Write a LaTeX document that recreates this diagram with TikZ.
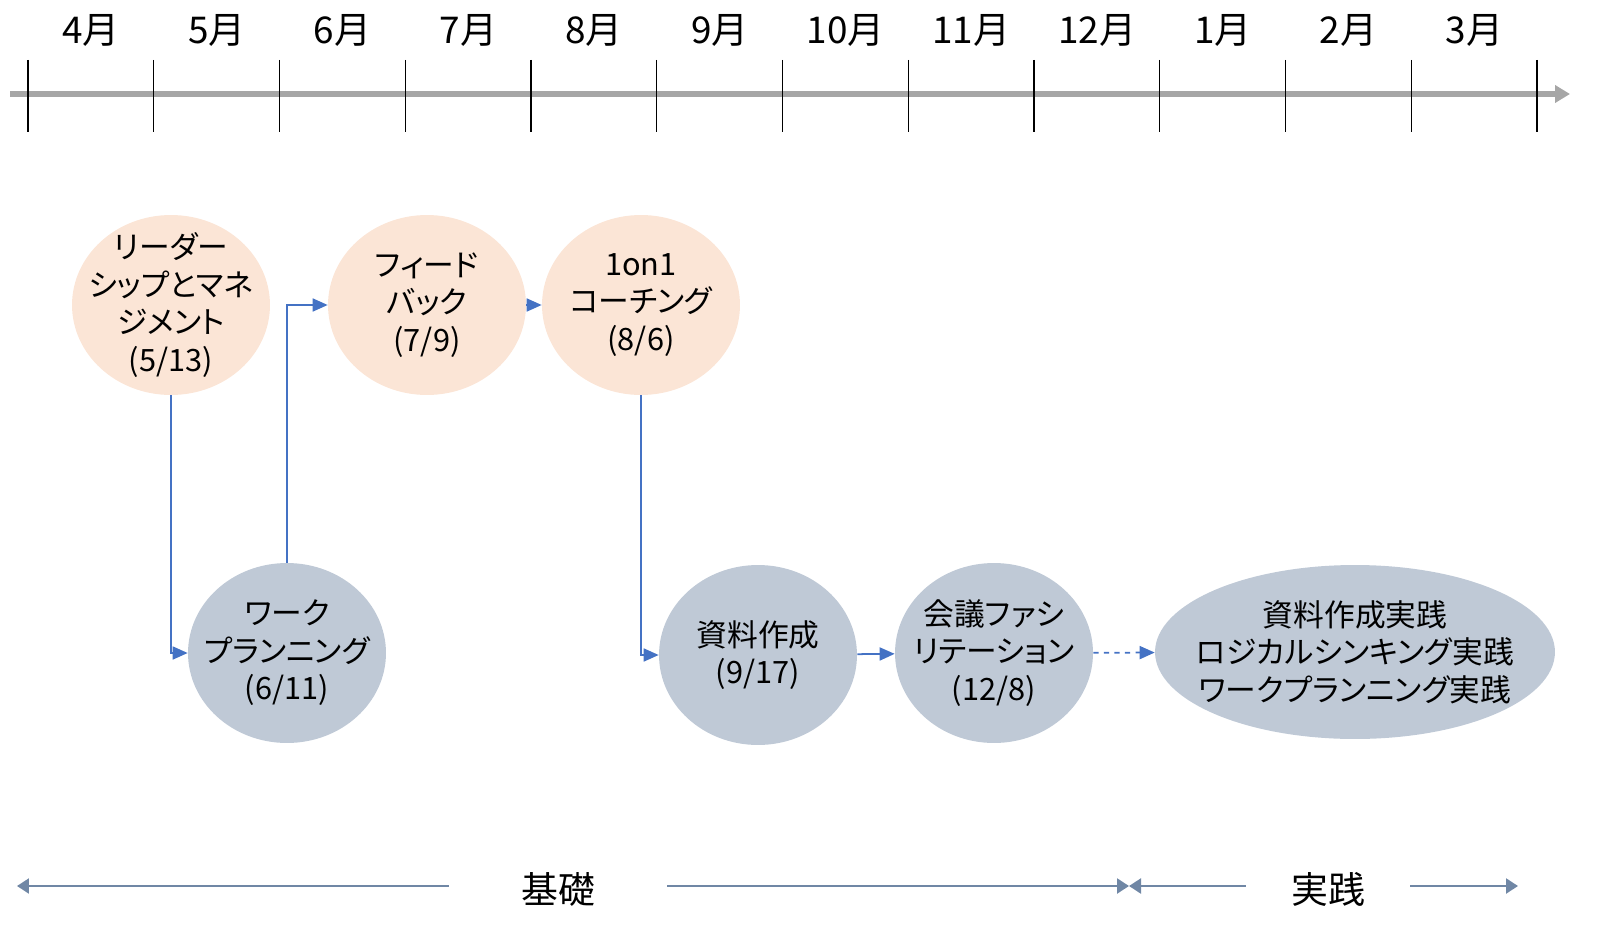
\documentclass[tikz,border=0pt]{standalone}
\usepackage{fontspec}
\setmainfont{Noto Sans CJK JP}[RawFeature=+palt]
\usetikzlibrary{arrows.meta, positioning, shapes.geometric}
\definecolor{peach}{RGB}{251,229,214}
\definecolor{slate}{RGB}{191,201,214}
\definecolor{linkblue}{RGB}{68,114,196}
\definecolor{spanblue}{RGB}{112,135,165}
\definecolor{axisgray}{RGB}{166,166,166}
\tikzset{
  topic/.style={ellipse, fill=peach, minimum width=3.96cm, minimum height=3.6cm,
    inner sep=-2cm, align=center, font=\fontsize{17.5}{21.3}\selectfont},
  practice/.style={topic, fill=slate},
  link/.style={-{Triangle[length=0.3cm,width=0.26cm]}, linkblue, line width=1pt},
  phase/.style={-{Triangle[length=0.24cm,width=0.3cm]}, spanblue, line width=1.3pt},
  month/.style={font=\fontsize{21}{25}\selectfont},
  tick/.style={black, line width=0.8pt}
}

\begin{document}
\begin{tikzpicture}[x=0.02cm, y=-0.02cm]
\useasboundingbox (0,0) rectangle (1619,936);
% time axis
\coordinate (ax0) at (10,94);
\coordinate (ax1) at (1570,94);
\draw[axisgray, line width=3.4pt, -{Triangle[length=0.3cm,width=0.34cm]}] (ax0) -- (ax1);
\foreach \i in {0,...,12}
  \draw[tick] ({28+125.75*\i},60) -- ({28+125.75*\i},132);
\foreach \m [count=\i from 0] in {4,5,6,7,8,9,10,11,12,1,2,3}
  \node[month] (m\i) at ({91+125.75*\i},30) {\m 月};

% topics
\node[topic] (lead) at (171,305) {リーダー\\シップとマネ\\ジメント\\(5/13)};
\node[topic] (feed) at (427,305) {フィード\\バック\\(7/9)};
\node[topic] (coach) at (641,305) {1on1\\コーチング\\(8/6)};
\node[practice] (work) at (287,653) {ワーク\\プランニング\\(6/11)};
\node[practice] (doc) at (758,655) {資料作成\\(9/17)};
\node[practice] (meet) at (994,653) {会議ファシ\\リテーション\\(12/8)};
\node[practice, minimum width=8cm, minimum height=3.48cm] (prac) at (1355,652)
  {資料作成実践\\ロジカルシンキング実践\\ワークプランニング実践};

\draw[link] (lead.south) |- (work.west);
\draw[link] (work.north) |- (feed.west);
\draw[link] (feed) -- (coach);
\draw[link] (coach.south) |- (doc.west);
\draw[link] (doc) -- (meet);
\draw[link, dashed] (meet) -- (prac);

% phases
\node[month, inner xsep=1.44cm] (kiso) at (558,889) {基礎};
\node[month, inner xsep=0.9cm] (jissen) at (1328,889) {実践};
\coordinate (k0) at (17,886);
\coordinate (k1) at (1129,886);
\coordinate (j0) at (1129,886);
\coordinate (j1) at (1518,886);
\draw[phase] (kiso.west |- k0) -- (k0);
\draw[phase] (kiso.east |- k1) -- (k1);
\draw[phase] (jissen.west |- j0) -- (j0);
\draw[phase] (jissen.east |- j1) -- (j1);
\end{tikzpicture}
\end{document}
